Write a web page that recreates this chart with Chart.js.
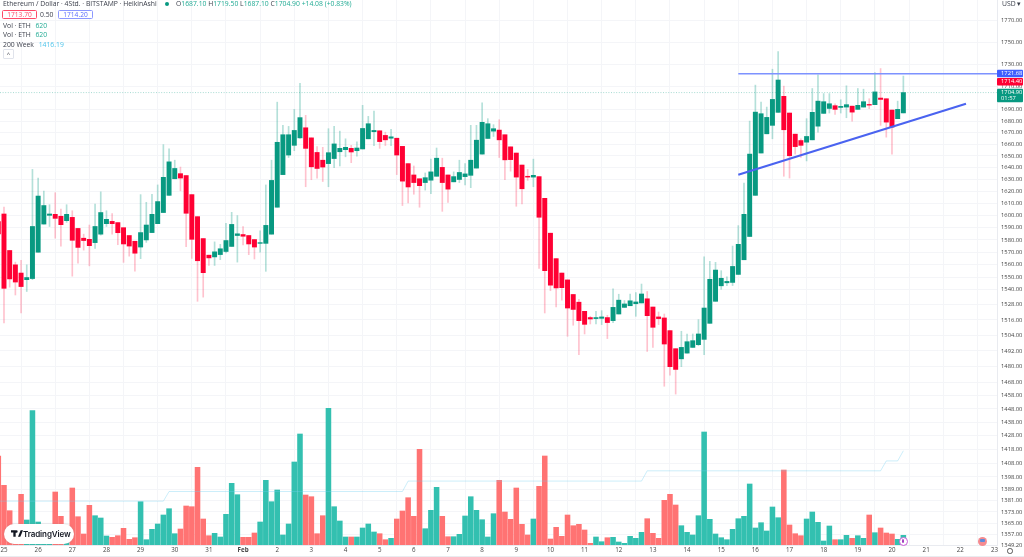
<!DOCTYPE html>
<html><head><meta charset="utf-8">
<script src="https://cdn.jsdelivr.net/npm/chart.js@4"></script>
<style>
html,body{margin:0;padding:0;background:#fff;overflow:hidden}
#wrap{position:relative;width:1024px;height:557px;overflow:hidden;font-family:"Open Sans",sans-serif}
canvas{position:absolute;left:0;top:0}
.t{position:absolute;white-space:nowrap;font-size:6.8px;line-height:9px;color:#3a3e4a}
.g{color:#22ab94}.box{position:absolute;border-radius:1.5px;text-align:center;font-size:6.6px;line-height:7px;height:7px;background:#fff}
#pill{position:absolute;left:4px;top:524px;width:70px;height:19.5px;border-radius:10px;background:#fff;box-shadow:0 0 2px rgba(120,120,120,.35)}
#pill span{position:absolute;left:19px;top:3.5px;font:600 8px/12px "Inter",sans-serif;color:#131722;letter-spacing:-.1px}
#pill svg{position:absolute;left:6.5px;top:6px}
.ic{position:absolute;border-radius:50%}
#foot{position:absolute;left:0;top:555.5px;width:1024px;height:1.5px;background:#e9ebef}
</style></head>
<body><div id="wrap">
<canvas id="c" width="1024" height="557"></canvas>
<div class="t" style="left:3px;top:-1px">Ethereum / Dollar · 4Std. · BITSTAMP · HeikinAshi</div>
<div class="ic" style="left:165px;top:2px;width:4px;height:4px;background:#089981"></div>
<div class="t" style="left:176px;top:-1px">O<span class="g">1687.10</span> H<span class="g">1719.50</span> L<span class="g">1687.10</span> C<span class="g">1704.90 +14.08 (+0.83%)</span></div>
<div class="box" style="left:2px;top:10px;width:33px;color:#ff4a68;border:1px solid #ff4a68">1713.70</div>
<div class="t" style="left:40px;top:10px">0.50</div>
<div class="box" style="left:58px;top:10px;width:33px;color:#5a6cff;border:1px solid #8c98ff">1714.20</div>
<div class="t" style="left:3px;top:20.5px">Vol · ETH <span class="g" style="margin-left:3px">620</span></div>
<div class="t" style="left:3px;top:30px">Vol · ETH <span class="g" style="margin-left:3px">620</span></div>
<div class="t" style="left:3px;top:39.5px">200 Week <span style="color:#4cc3ea;margin-left:3px">1416.19</span></div>
<div class="t" style="left:3px;top:49px;width:9px;height:8px;border:1px solid #e0e3eb;border-radius:1px;text-align:center;line-height:9px;font-size:6px">^</div>
<div class="t" style="left:1002px;top:-1px">USD ▾</div>
<div id="pill"><svg width="12" height="7" viewBox="0 0 36 20"><path d="M14 20H7V7H0V0h14zM28 20h-7L29 0h7zM20 4a4 4 0 1 1-8 0 4 4 0 0 1 8 0z" fill="#131722" transform="translate(0 0)"/></svg><span>TradingView</span></div>
<div class="ic" style="left:898.5px;top:536.5px;width:7px;height:7px;background:#fff;border:1.3px solid #c95cd8"></div>
<div class="ic" style="left:901.5px;top:539px;width:2.5px;height:4px;background:#a43cc0"></div>
<div class="ic" style="left:977.5px;top:536.5px;width:9px;height:9px;background:#f58b90"></div>
<div class="ic" style="left:979.5px;top:538.5px;width:5px;height:3.5px;background:#5b8bdc;border-radius:1px"></div>
<div class="ic" style="left:1007px;top:548px;width:3.5px;height:3.5px;border:1.2px solid #555"></div>
<div id="foot"></div>
</div>
<script>
const opens=[1595,
1601.3,1571.4,1559.8,1553.2,1547.9,1548.8,1570,1593,1600.2,1601,
1599.4,1595.8,1598.5,1589.4,1581.4,1580.5,1577.8,1584.7,1593.3,1595.2,
1594.2,1590,1583.6,1578.9,1574.2,1580,1586,1593.3,1602.5,1616.8,
1630.7,1635,1633.4,1617.4,1599.1,1581.1,1567.6,1566.2,1568.1,1570.6,
1574.7,1583.6,1584.4,1583.6,1580.3,1577.2,1577.2,1584.7,1606.9,1634.2,
1650.8,1659.1,1665.5,1674.2,1665.5,1653,1646.4,1643.5,1647.8,1653.6,
1655.4,1656.5,1654.5,1656,1664.7,1670.8,1671.6,1667.6,1665.2,1665.2,
1658.2,1643.5,1633.9,1630.7,1627.5,1629.5,1632.8,1640.3,1633.9,1628.1,
1630.1,1632.5,1633.6,1639.7,1651.6,1665,1671.3,1672.2,1668.2,1657.8,
1652.5,1642.3,1632.8,1632.1,1632.5,1614.3,1585.5,1564.8,1553.2,1547.7,
1536.1,1530,1522.8,1517.9,1517.1,1517.3,1517.9,1515.5,1520.7,1525.9,
1527.2,1528.8,1529.4,1532.7,1526.2,1518.4,1517.6,1507.7,1493.7,1485.9,
1490.3,1494.7,1496.8,1500.9,1513.4,1530.7,1543,1545.4,1545.7,1552.1,
1563.9,1582.8,1616.8,1652.5,1669,1676.3,1687.6,1701.6,1687,1668.7,
1663.2,1661.8,1663.8,1675.6,1686.7,1691,1693.4,1691.9,1692.2,1693,
1690.2,1692.2,1694.5,1694.3,1700.1,1699.5,1689.6,1682.1,1687.1];
const closes=[1585,
1541,1548.5,1546,1542.4,1549.6,1591,1616.2,1608.3,1601.3,1597.7,
1592.5,1601,1579.7,1573.9,1579.5,1575.3,1591,1602.5,1596.9,1593.3,
1585.9,1576.7,1575,1569.2,1586,1592.2,1601,1611.6,1631.9,1645,
1639.4,1631.3,1601.9,1580.5,1563.1,1553.5,1565.4,1570.3,1572.8,1579.5,
1592.7,1585,1583,1576.7,1574.2,1577.8,1591.9,1629.3,1661.7,1668.2,
1668.2,1671.9,1683,1656.5,1640.8,1639.4,1640.6,1652.8,1660.3,1656.5,
1657.4,1653.4,1656.8,1673.6,1677.7,1671.9,1662.3,1663.8,1666.4,1650.8,
1628.7,1623.8,1627.5,1624.9,1631.6,1636.5,1648.1,1627.5,1622,1632.5,
1636,1634.8,1646.4,1663.5,1678.9,1677.7,1673.4,1663.8,1646.7,1646.9,
1632.1,1622.3,1632.1,1633.6,1598.6,1555.1,1543.5,1541.3,1541.5,1525.4,
1524.3,1515.5,1512.6,1516.8,1517.9,1518.4,1514,1525.9,1531.6,1528.6,
1531.1,1530.2,1536.5,1519.4,1510.3,1517.1,1497.3,1479.9,1477.8,1494.7,
1499.1,1499.9,1505.1,1525.4,1548.2,1555.6,1549,1546.5,1558.5,1576.4,
1601,1651.6,1687.8,1686.4,1683.2,1698.9,1716,1672.5,1650.2,1658,
1659.1,1666.7,1687.6,1697.4,1696.9,1695.1,1690.2,1692.8,1694.3,1687.8,
1693.7,1696.9,1693.9,1705.5,1698.9,1679.1,1674.8,1690.2,1704.9];
const highs=[1621.4,
1607,1571.4,1562,1563.4,1559.8,1638.6,1631.3,1620.3,1609,1619,
1605.4,1609,1604,1589.4,1584.7,1592.2,1609.6,1619.7,1604,1601.6,
1594.2,1590,1583.6,1578.9,1617.4,1611,1617.7,1625.5,1659.7,1656,
1646.4,1640.6,1633.4,1617.4,1599.1,1581.1,1567.6,1578.4,1576.4,1593.6,
1602.7,1600,1591,1583.6,1580.3,1587.5,1625.5,1646.4,1696.5,1676.3,
1675.4,1690.2,1713,1685,1665.5,1658,1657.4,1673.4,1675.4,1671.3,
1664.7,1659.1,1662.1,1693.7,1684.1,1688.7,1671.6,1670.4,1672.8,1665.2,
1658.2,1643.5,1641.5,1630.7,1635.6,1647.3,1656.8,1648.1,1633.9,1636.5,
1646.4,1643.5,1676.3,1676.3,1696,1682.1,1676.9,1681.2,1668.2,1657.8,
1652.5,1642.3,1638.6,1647.3,1632.5,1614.3,1585.5,1564.8,1553.2,1547.7,
1536.1,1532.2,1522.8,1518.9,1522.8,1523.3,1519.7,1540.5,1536.3,1531.3,
1536.5,1537.6,1544.4,1538.5,1526.2,1522.3,1520.7,1507.7,1493.7,1507.2,
1505.1,1505.1,1516.3,1566.2,1562.6,1561.8,1555.1,1550.2,1575,1591.7,
1627,1680,1711.5,1696.5,1692.2,1725.6,1741.5,1710.6,1687,1668.7,
1664.7,1682.1,1708.5,1720.5,1704,1704,1695.1,1698.6,1710.9,1693,
1708.5,1707.9,1699.5,1722.6,1726.2,1699.5,1689.6,1697.4,1719.5];
const lows=[1582,
1513.7,1541.9,1535.7,1521.5,1538.5,1547.9,1570,1593,1591,1581.4,
1575,1594.4,1550.7,1561.2,1571.7,1559,1573,1583.9,1591,1584.7,
1576.1,1561.8,1566.8,1554.8,1564.8,1578,1586,1593.3,1602.5,1616.8,
1630.7,1620.6,1574.6,1565,1530.7,1534,1559.3,1559.3,1564,1569.5,
1574.7,1562,1575.9,1568,1564.5,1570,1554.6,1584.7,1606.9,1634.2,
1648.7,1654.5,1665,1624,1629.9,1631.3,1628.4,1624,1640,1641.5,
1649.3,1644.3,1649.9,1656,1664.7,1658.9,1656.5,1658.9,1658.9,1634.2,
1608.3,1610.4,1617.7,1606.9,1621.2,1618.2,1632.8,1603.5,1611,1628.1,
1627.5,1625.5,1623.2,1639.7,1651.6,1665,1666.7,1648.7,1629.9,1637.1,
1607.7,1609.6,1629.3,1624,1557,1521.5,1539.1,1526.2,1531.6,1503.3,
1511.9,1489,1505.1,1512.9,1512.9,1512.4,1501.5,1514,1520.7,1525.9,
1527.2,1518.9,1529.4,1491.6,1494.7,1512.4,1465,1473.4,1459.1,1479.9,
1490.3,1494.7,1496,1489,1513.4,1530.7,1540.2,1543.2,1543.2,1552.1,
1563.9,1582.8,1616.8,1652.5,1669,1664.7,1687.6,1632.8,1631.3,1651.6,
1648.7,1645.8,1663.8,1670.4,1686.7,1687,1685.8,1687,1682.9,1680,
1690.2,1692.2,1690.8,1694.3,1676.3,1666.1,1651.6,1682.1,1687.1];
const volumes=[89,
59.7,34.3,12,50.7,25,134.3,23,10,8,53,
28.7,8,57,28.3,11,39.7,29.3,27,9,7.7,
9.3,16.7,5.7,7.3,43.3,5.3,15.7,21,30,36.3,
11.3,16,39,38.3,77.7,26,9.3,11.7,8,30.7,
61.7,50.3,7.7,7.7,12,23,64.7,43.3,55,10,
21,83,111,50,48.3,11.3,29.3,136.7,38.3,24,
8,8,8,17,21,13,11.3,5.3,6.7,26,
34,47.3,28.7,95.7,16.3,34.7,57.7,28.7,8.3,8.3,
10.7,29,48.3,34.7,25.3,8,31.3,64.7,33,25.7,
57,20.7,10,26,58.7,89,6,17.7,8.7,30,
19.3,20.7,15,1.7,8,3.3,7.3,7.7,3,1.7,
8.7,6.7,12.7,26.3,11.7,6.7,44.7,50.7,40,19.3,
12.7,10,29.3,113,25.7,11,7.3,5.3,15.7,26.3,
28.7,61,17,22.3,14,38,27.3,75,20,11.3,
9.3,26,33,22.7,4,19,5.3,5.3,9.7,6.7,
9.3,6.7,30,12.3,17,12,11,5.7,9.7];
const dayLabels=['25','26','27','28','29','30','31','Feb','2','3','4','5','6','7','8','9','10','11','12','13','14','15','16','17','18','19','20','21','22','23'];
const priceTicks=[1770,1750,1730,1710,1690,1680,1670,1660,1650,1640,1630,1620,1610,1600,1590,1580,1570,1560,1550,1540,1528,1516,1504,1492,1480,1468,1458,1448,1438,1428,1418,1408,1398,1389,1381,1373,1365,1357,1349.2];
const weekMaIndex=[-1,28,29,70,71,112,113,154,155,157,158];
const weekMaValues=[1380.6,1380.6,1387.5,1387.5,1395,1395,1402.4,1402.4,1409.6,1409.6,1417];
const resistance=1721.68, askPrice=1714.40, lastPrice=1704.90, countdown='01:57';
const supportIndex=[129,169], supportValues=[1634,1695];
const resistanceIndex=[129,175];
const xMin=-0.7, xMax=174.45, candlesPerDay=6;
const UP='#089981', DOWN='#ff0033', UPW='rgba(8,153,129,.3)', DOWN_W='rgba(255,0,51,.24)', UPV='#33c0b0', DOWNV='#ff7373';

const idx=opens.map((_,k)=>k-1);
const isUp=k=>closes[k]>=opens[k];
const pts=(xs,ys)=>xs.map((x,k)=>({x,y:ys[k]}));
const noPad=s=>{s.paddingTop=s.paddingBottom=s.paddingLeft=s.paddingRight=0};

const tagPlugin={id:'tags',afterDraw(ch){
  const c=ch.ctx,y=ch.scales.y,r=ch.chartArea.right,W=ch.width;
  const tag=(p,col,lines,h)=>{
    const py=y.getPixelForValue(p);
    c.fillStyle=col;c.beginPath();c.roundRect(r,py-3.8,W-r-1,h,1);c.fill();
    c.fillStyle='#fff';c.font='5.8px "Open Sans"';c.textBaseline='middle';c.textAlign='left';
    lines.forEach((s,k)=>c.fillText(s,r+4,py+k*5.6));
  };
  tag(resistance,'#3f5fff',[resistance.toFixed(2)],7.4);
  tag(askPrice,DOWN,[askPrice.toFixed(2)],7.4);
  tag(lastPrice,UP,[lastPrice.toFixed(2),countdown],13.5);
}};

new Chart(document.getElementById('c'),{
  type:'bar',
  data:{datasets:[
    {label:'Volume',order:6,yAxisID:'vol',grouped:false,barThickness:4.9,
      data:pts(idx,volumes),backgroundColor:idx.map((_,k)=>isUp(k)?UPV:DOWNV)},
    {type:'line',label:'200 Week',order:5,yAxisID:'y',data:pts(weekMaIndex,weekMaValues),
      borderColor:'rgba(110,205,240,.35)',borderWidth:1,pointRadius:0,tension:0},
    {type:'line',label:'Last',order:4,yAxisID:'y',data:pts([xMin,xMax],[lastPrice,lastPrice]),
      borderColor:'rgba(8,153,129,.45)',borderWidth:.8,borderDash:[1,1.6],pointRadius:0},
    {label:'Wicks',order:3,yAxisID:'y',grouped:false,barThickness:1,
      data:idx.map((x,k)=>({x,y:[lows[k],highs[k]]})),backgroundColor:idx.map((_,k)=>isUp(k)?UPW:DOWN_W)},
    {label:'Bodies',order:2,yAxisID:'y',grouped:false,barThickness:4.3,
      data:idx.map((x,k)=>({x,y:[opens[k],closes[k]]})),backgroundColor:idx.map((_,k)=>isUp(k)?UP:DOWN)},
    {type:'line',label:'Resistance',order:1,yAxisID:'y',data:pts(resistanceIndex,[resistance,resistance]),
      borderColor:'#7d92ff',borderWidth:1.5,pointRadius:0},
    {type:'line',label:'Support',order:1,yAxisID:'y',data:pts(supportIndex,supportValues),
      borderColor:'#4a63f0',borderWidth:2.1,pointRadius:0}
  ]},
  options:{
    responsive:false,animation:false,devicePixelRatio:1,
    layout:{padding:0},
    plugins:{legend:{display:false},tooltip:{enabled:false},title:{display:false}},
    scales:{
      x:{type:'linear',min:xMin,max:xMax,offset:false,
        afterBuildTicks:s=>{s.ticks=dayLabels.map((_,k)=>({value:k*candlesPerDay}))},
        afterFit:s=>{s.height=12;noPad(s)},
        grid:{color:'#f4f5f8',lineWidth:1,drawTicks:false},
        border:{color:'#e9ebf0'},
        ticks:{autoSkip:false,maxRotation:0,padding:2,color:'#444',
          font:c=>({family:'"Open Sans"',size:6.2,weight:(c.tick&&dayLabels[c.tick.value/candlesPerDay]==='Feb')?'700':'400'}),
          callback:v=>dayLabels[v/candlesPerDay]}},
      y:{type:'logarithmic',position:'right',min:1349.7,max:1788.4,
        afterBuildTicks:s=>{s.ticks=priceTicks.map(value=>({value}))},
        afterFit:s=>{s.width=27;noPad(s)},
        grid:{color:'#f4f5f8',drawTicks:false},
        border:{color:'#e9ebf0'},
        ticks:{autoSkip:false,padding:4,color:'#444',font:{family:'"Open Sans"',size:5.8},
          callback:v=>Number(v).toFixed(2)}},
      vol:{type:'linear',display:false,min:0,max:545,grid:{display:false}}
    }
  },
  plugins:[tagPlugin]
});
</script></body></html>
